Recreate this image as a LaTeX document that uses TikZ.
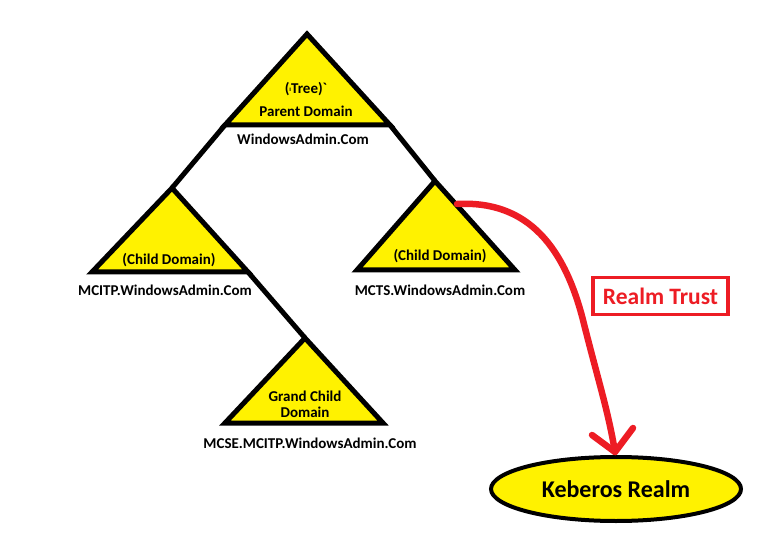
\documentclass[tikz,border=0pt]{standalone}
\usepackage{fontspec}
\setmainfont{Carlito}
\usetikzlibrary{shapes.geometric}
\definecolor{pyellow}{HTML}{FFF200}
\definecolor{pred}{HTML}{ED1C24}
\begin{document}
\begin{tikzpicture}[x=1pt,y=-1pt,
  tri/.style={fill=pyellow,draw=black,line width=5pt,line join=miter},
  conn/.style={draw=black,line width=5pt},
  lbl/.style={font=\bfseries\fontsize{15}{17}\selectfont,inner sep=0pt},
  trust/.style={draw=pred,line width=6.5pt,line cap=round,line join=round}]
\useasboundingbox[fill=white] (0,0) rectangle (769,540);
% coordinates of triangles
\coordinate (pA) at (307,34);
\coordinate (pL) at (225,125);
\coordinate (pR) at (390,125);
\coordinate (c1A) at (172,188);
\coordinate (c1L) at (92,272);
\coordinate (c1R) at (248,272);
\coordinate (c2A) at (435,181);
\coordinate (c2L) at (357,270);
\coordinate (c2R) at (515,270);
\coordinate (gA) at (305,338);
\coordinate (gL) at (225,423);
\coordinate (gR) at (383,423);
% connectors
\draw[conn] (pL) -- (c1A);
\draw[conn] (pR) -- (c2A);
\draw[conn] (c1R) -- (gA);
% triangles
\draw[tri] (pA) -- (pL) -- (pR) -- cycle;
\draw[tri] (c1A) -- (c1L) -- (c1R) -- cycle;
\draw[tri] (c2A) -- (c2L) -- (c2R) -- cycle;
\draw[tri] (gA) -- (gL) -- (gR) -- cycle;
% labels
\node[lbl] (tTree) at (306,89) {(\raisebox{2pt}{\scriptsize ı}Tree)\textasciigrave};
\node[lbl] (tPar) at (306,111) {Parent Domain};
\node[lbl] (tWin) at (303,139) {WindowsAdmin.Com};
\node[lbl] (tC1) at (169,260) {(Child Domain)};
\node[lbl] (tMcitp) at (165,290) {MCITP.WindowsAdmin.Com};
\node[lbl] (tC2) at (440,256) {(Child Domain)};
\node[lbl] (tMcts) at (440,290) {MCTS.WindowsAdmin.Com};
\node[lbl,align=center] (tG) at (305,404) {Grand Child\\[-1pt]Domain};
\node[lbl] (tMcse) at (310,443) {MCSE.MCITP.WindowsAdmin.Com};
% kerberos realm
\node[ellipse,draw=black,fill=pyellow,line width=4pt,minimum width=250pt,minimum height=64pt,inner sep=0pt,font=\bfseries\fontsize{24}{27}\selectfont] (kr) at (616,489) {Keberos Realm};
% realm trust box
\node[draw=pred,line width=3.5pt,text=pred,minimum width=135pt,minimum height=37pt,inner sep=0pt,font=\bfseries\fontsize{23.5}{25}\selectfont] (rt) at (660.5,296) {Realm Trust};
% trust arrow
\coordinate (aS) at (457,204);
\coordinate (aT) at (615,452);
\draw[trust] (aS) .. controls (530,200) and (565,250) .. (583,320) .. controls (598,380) and (608,410) .. (aT);
\draw[trust] (592,435) -- (aT) -- (633,428);
\end{tikzpicture}
\end{document}
